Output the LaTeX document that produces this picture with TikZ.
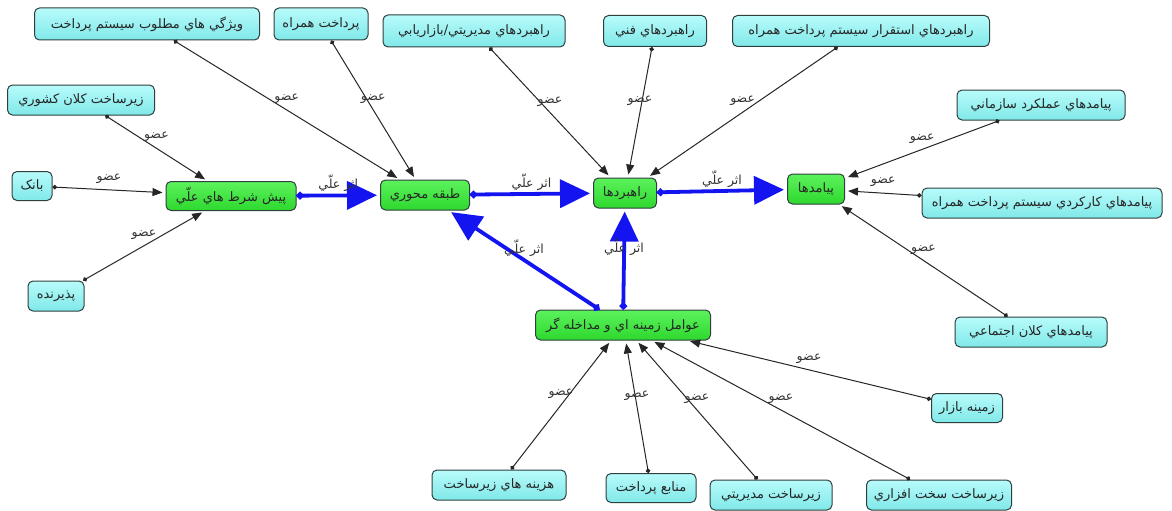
\documentclass[tikz,border=0pt]{standalone}
\usepackage{fontspec}
\usetikzlibrary{arrows.meta}
\newfontfamily\arabicfont[Script=Arabic]{DejaVu Sans}
\TeXXeTstate=1
\newcommand\rtl[1]{\beginR #1\endR}
\definecolor{cyT}{HTML}{B8FBFB}
\definecolor{cyB}{HTML}{80E8E8}
\definecolor{grT}{HTML}{5CF25C}
\definecolor{grB}{HTML}{2ED82E}
\definecolor{bordc}{HTML}{2F3F3F}
\definecolor{causeblue}{HTML}{1414F0}
\begin{document}
\begin{tikzpicture}[x=1pt,y=-1pt,
  box/.style={draw=bordc, line width=1pt, rounded corners=5pt, inner sep=0pt,
    font=\fontsize{13}{15}\selectfont\arabicfont, text=black!85, align=center},
  cy/.style={box, top color=cyT, bottom color=cyB},
  gr/.style={box, top color=grT, bottom color=grB},
  mem/.style={draw=black!85, line width=1pt,
    {Circle[length=4.5pt]}-{Triangle[length=10pt,width=8pt]}, shorten >=3pt},
  cause/.style={draw=causeblue, line width=3.8pt,
    {Circle[length=7pt]}-{Triangle[length=30pt,width=28pt]}, shorten >=3pt},
  lab/.style={font=\fontsize{12.5}{14}\selectfont\arabicfont, text=black!80, inner sep=0pt}
]
\useasboundingbox (0,0) rectangle (1172,511);
% cyan nodes
\node[cy, minimum width=225pt, minimum height=32pt] (n1) at (147,24) {\rtl{ويژگي هاي مطلوب سيستم پرداخت}};
\node[cy, minimum width=94pt, minimum height=32pt] (n2) at (321,24) {\rtl{پرداخت همراه}};
\node[cy, minimum width=182pt, minimum height=32pt] (n3) at (474,31) {\rtl{راهبردهاي مديريتي/بازاريابي}};
\node[cy, minimum width=103pt, minimum height=31pt] (n4) at (655,31) {\rtl{راهبردهاي فني}};
\node[cy, minimum width=257pt, minimum height=31pt] (n5) at (861,31) {\rtl{راهبردهاي استقرار سيستم پرداخت همراه}};
\node[cy, minimum width=168pt, minimum height=30pt] (n6) at (1041,105) {\rtl{پيامدهاي عملكرد سازماني}};
\node[cy, minimum width=147pt, minimum height=30pt] (n7) at (81,100) {\rtl{زيرساخت كلان كشوري}};
\node[cy, minimum width=40pt, minimum height=29pt] (n8) at (32,186) {\rtl{بانک}};
\node[cy, minimum width=56pt, minimum height=30pt] (n9) at (56,296) {\rtl{پذيرنده}};
\node[cy, minimum width=240pt, minimum height=30pt] (n10) at (1042,203) {\rtl{پيامدهاي كاركردي سيستم پرداخت همراه}};
\node[cy, minimum width=152pt, minimum height=30pt] (n11) at (1031,332) {\rtl{پيامدهاي كلان اجتماعي}};
\node[cy, minimum width=71pt, minimum height=29pt] (n12) at (967,408) {\rtl{زمينه بازار}};
\node[cy, minimum width=145pt, minimum height=30pt] (n13) at (939,495) {\rtl{زيرساخت سخت افزاري}};
\node[cy, minimum width=122pt, minimum height=30pt] (n14) at (771,495) {\rtl{زيرساخت مديريتي}};
\node[cy, minimum width=90pt, minimum height=29pt] (n15) at (651,488) {\rtl{منابع پرداخت}};
\node[cy, minimum width=134pt, minimum height=30pt] (n16) at (499,485) {\rtl{هزينه هاي زيرساخت}};
% green nodes
\node[gr, minimum width=130pt, minimum height=29pt] (A) at (231,196) {\rtl{پيش شرط هاي علّي}};
\node[gr, minimum width=89pt, minimum height=30pt] (B) at (425,195) {\rtl{طبقه محوري}};
\node[gr, minimum width=63pt, minimum height=30pt] (C) at (625,193) {\rtl{راهبردها}};
\node[gr, minimum width=57pt, minimum height=30pt] (D) at (816,189) {\rtl{پيامدها}};
\node[gr, minimum width=175pt, minimum height=30pt] (E) at (623,325) {\rtl{عوامل زمينه اي و مداخله گر}};
% member connectors
\foreach \s/\t in {n1/B, n2/B, n7/A, n8/A, n9/A, n3/C, n4/C, n5/C, n6/D, n10/D, n11/D, n12/E, n13/E, n14/E, n15/E, n16/E}{
  \draw[mem] (\s) -- (\t) node[lab, midway, yshift=11pt] {\rtl{عضو}};
}
% causal connectors
\foreach \s/\t in {A/B, B/C, C/D, E/B, E/C}{
  \draw[cause] (\s) -- (\t) node[lab, midway, yshift=12pt] {\rtl{اثر علّي}};
}
\end{tikzpicture}
\end{document}
